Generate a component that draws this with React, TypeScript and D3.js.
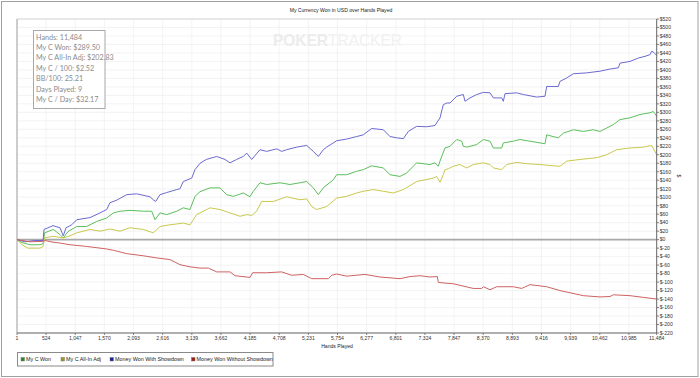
import React from "react";
import * as d3 from "d3";

const title = "My Currency Won in USD over Hands Played";
const xTitle = "Hands Played";
const yTitle = "$";
const xTickValues = [1, 524, 1047, 1570, 2093, 2616, 3139, 3662, 4185, 4708, 5231, 5754, 6277, 6801, 7324, 7847, 8370, 8893, 9416, 9939, 10462, 10985, 11484];
const yTickValues = [-220, -200, -180, -160, -140, -120, -100, -80, -60, -40, -20, 0, 20, 40, 60, 80, 100, 120, 140, 160, 180, 200, 220, 240, 260, 280, 300, 320, 340, 360, 380, 400, 420, 440, 460, 480, 500, 520];
const statsLines = ["Hands: 11,484", "My C Won: $289.50", "My C All-In Adj: $202.83", "My C / 100: $2.52", "BB/100: 25.21", "Days Played: 9", "My C / Day: $32.17"];
const seriesNames = ["My C Won", "My C All-In Adj", "Money Won With Showdown", "Money Won Without Showdown"];

const showdownHands = [1, 145, 324, 468, 486, 647, 773, 832, 880, 983, 1073, 1311, 1491, 1611, 1670, 1790, 1970, 2150, 2388, 2448, 2491, 2568, 2688, 2868, 2927, 2986, 3137, 3196, 3286, 3400, 3586, 3735, 3825, 3944, 4063, 4124, 4214, 4363, 4483, 4663, 4752, 4842, 5021, 5201, 5320, 5410, 5499, 5559, 5739, 5918, 6098, 6217, 6367, 6576, 6696, 6816, 6936, 7025, 7175, 7355, 7504, 7594, 7653, 7714, 7774, 7894, 8013, 8043, 8133, 8253, 8372, 8492, 8552, 8702, 8731, 8761, 8971, 9090, 9330, 9479, 9509, 9718, 9748, 9868, 9987, 10226, 10466, 10645, 10795, 10825, 11004, 11154, 11274, 11364, 11394, 11435, 11484];
const showdownValues = [0, -5, -2, -2, 24, 33, 28, 9, 28, 35, 47, 52, 63, 71, 87, 93, 106, 108, 101, 94, 90, 106, 111, 118, 120, 137, 145, 165, 180, 189, 196, 189, 181, 189, 196, 204, 189, 212, 208, 214, 208, 212, 218, 222, 208, 196, 212, 218, 233, 237, 243, 247, 262, 259, 243, 240, 238, 255, 267, 266, 269, 287, 318, 322, 322, 338, 342, 326, 334, 342, 347, 346, 334, 334, 326, 344, 346, 342, 336, 338, 361, 361, 373, 381, 391, 393, 397, 402, 405, 416, 420, 428, 432, 436, 444, 441, 434];

const wonHands = [1, 91, 234, 414, 473, 495, 653, 773, 832, 916, 1073, 1252, 1432, 1611, 1730, 1850, 2029, 2268, 2419, 2478, 2568, 2688, 2868, 2986, 3106, 3196, 3286, 3465, 3645, 3765, 3884, 4063, 4183, 4243, 4363, 4483, 4722, 4901, 5081, 5201, 5320, 5410, 5499, 5678, 5739, 5918, 6098, 6217, 6367, 6576, 6696, 6875, 6995, 7175, 7414, 7504, 7564, 7594, 7683, 7774, 7894, 7984, 8013, 8073, 8253, 8372, 8492, 8552, 8702, 8731, 8910, 9030, 9209, 9389, 9479, 9509, 9622, 9718, 9808, 9987, 10167, 10346, 10466, 10585, 10705, 10825, 11004, 11184, 11364, 11423, 11484];
const wonValues = [0, -7, -12, -12, -9, 16, 24, 12, 4, 19, 31, 31, 43, 51, 63, 67, 69, 67, 67, 47, 63, 59, 67, 75, 71, 102, 113, 122, 122, 106, 102, 110, 101, 114, 134, 130, 134, 130, 134, 137, 122, 106, 122, 141, 153, 153, 161, 165, 174, 169, 153, 149, 157, 181, 177, 181, 173, 185, 216, 220, 236, 232, 220, 218, 224, 236, 232, 216, 216, 228, 232, 236, 232, 228, 226, 247, 243, 240, 251, 259, 255, 259, 255, 263, 271, 283, 287, 295, 299, 302, 291];

const allInHands = [1, 91, 198, 414, 468, 495, 653, 832, 952, 1073, 1311, 1491, 1670, 1850, 2029, 2268, 2448, 2568, 2747, 2986, 3106, 3226, 3286, 3465, 3645, 3825, 4004, 4124, 4214, 4303, 4393, 4602, 4842, 5081, 5201, 5291, 5380, 5559, 5739, 5918, 6098, 6217, 6397, 6576, 6756, 6936, 7175, 7474, 7534, 7594, 7653, 7683, 7743, 7833, 7953, 8073, 8192, 8372, 8492, 8552, 8702, 8791, 8971, 9150, 9389, 9628, 9748, 9868, 10107, 10406, 10585, 10765, 11004, 11244, 11394, 11484];
const allInValues = [0, -12, -20, -20, -16, 4, 8, 4, 9, 16, 24, 20, 25, 20, 28, 24, 16, 31, 35, 39, 35, 59, 63, 75, 71, 63, 55, 59, 57, 67, 90, 90, 101, 94, 96, 78, 71, 78, 98, 102, 110, 114, 118, 114, 110, 118, 137, 145, 149, 135, 153, 165, 167, 173, 177, 169, 177, 181, 177, 169, 165, 177, 182, 179, 177, 174, 173, 185, 189, 193, 200, 212, 216, 218, 222, 200];

const noShowdownHands = [1, 234, 473, 503, 647, 773, 952, 1252, 1491, 1611, 1730, 1970, 2268, 2508, 2747, 2927, 3106, 3286, 3435, 3586, 3825, 3914, 4183, 4232, 4483, 4752, 4932, 5141, 5291, 5589, 5650, 5739, 5918, 6247, 6517, 6876, 7055, 7235, 7414, 7546, 7564, 7833, 8192, 8343, 8372, 8492, 8612, 8910, 9060, 9209, 9509, 9748, 10167, 10466, 10645, 10705, 11004, 11244, 11484];
const noShowdownValues = [0, -5, -4, -2, -6, -8, -12, -16, -20, -22, -25, -33, -38, -43, -47, -59, -64, -67, -67, -76, -76, -85, -89, -78, -78, -76, -84, -82, -92, -92, -84, -81, -86, -82, -88, -92, -87, -85, -88, -87, -101, -104, -115, -115, -111, -118, -111, -111, -115, -106, -111, -120, -132, -135, -134, -130, -132, -136, -140];

const lineColors = ["#5cbf5c", "#c9c94e", "#6a6ad2", "#cf6262"];
const swatchColors = ["#1f8f1f", "#9a9a1c", "#1c1ca0", "#a01c1c"];

const W = 700, H = 378;
const L = 17, R = 656.7, T = 19, B = 333;

export default function App() {
  const x = d3.scaleLinear().domain([1, 11484]).range([L, R]);
  const y = d3.scaleLinear().domain([-220, 520]).range([B, T]);
  const mk = (hs: number[], vs: number[]) =>
    d3.line<number>().x((_, i) => x(hs[i])).y((v) => y(v))(vs) || "";
  const paths = [
    mk(wonHands, wonValues),
    mk(allInHands, allInValues),
    mk(showdownHands, showdownValues),
    mk(noShowdownHands, noShowdownValues),
  ];
  const fmtX = d3.format(",");
  const fmtY = (v: number) => (v < 0 ? "$-" + Math.abs(v) : "$" + v);
  const axisFont = "'Liberation Sans', Arial, sans-serif";
  const legendX = [21, 61, 110, 191.5];
  return (
    <svg width={W} height={H} style={{ position: "fixed", left: 0, top: 0, background: "#fff" }}>
      <rect x={0} y={0} width={W} height={H} fill="#fff" />
      <rect x={1.5} y={1.5} width={696.5} height={375} fill="none" stroke="#a0a0a0" />
      <text x={341} y={11.5} fontFamily={axisFont} fontSize={5.1} textAnchor="middle" fill="#222">{title}</text>
      {/* grid */}
      {yTickValues.map((v) => (
        <line key={"gy" + v} x1={L} x2={R} y1={y(v)} y2={y(v)} stroke="#f0f0f0" strokeWidth={0.8} />
      ))}
      {xTickValues.map((v) => (
        <line key={"gx" + v} x1={x(v)} x2={x(v)} y1={T} y2={B} stroke="#f0f0f0" strokeWidth={0.8} />
      ))}
      <line x1={L} x2={R} y1={T} y2={T} stroke="#cfcfcf" strokeWidth={0.8} />
      <line x1={L} x2={L} y1={T} y2={B} stroke="#a0a0a0" strokeWidth={1} />
      {/* watermark */}
      <text x={273} y={46} fontFamily="'Liberation Sans', Arial, sans-serif" fontWeight="bold" fontSize={17} fill="#ececec" textLength={129} lengthAdjust="spacingAndGlyphs">
        <tspan>POKER</tspan><tspan fontWeight="normal" fill="#f1f1f1">TRACKER</tspan>
      </text>
      {/* zero line */}
      <line x1={L} x2={R} y1={y(0)} y2={y(0)} stroke="#a8a8a8" strokeWidth={1.8} />
      {/* series */}
      {paths.map((d, i) => (
        <path key={"s" + i} d={d} fill="none" stroke={lineColors[i]} strokeWidth={1} strokeLinejoin="round" />
      ))}
      {/* axes */}
      <line x1={R} x2={R} y1={T} y2={B} stroke="#666" strokeWidth={1} />
      <line x1={L} x2={R} y1={B} y2={B} stroke="#666" strokeWidth={1} />
      {yTickValues.map((v) => (
        <g key={"ty" + v}>
          <line x1={R} x2={R + 2.5} y1={y(v)} y2={y(v)} stroke="#666" strokeWidth={0.8} />
          <text x={R + 3} y={y(v) + 1.8} fontFamily={axisFont} fontSize={5.1} fill="#333">{fmtY(v)}</text>
        </g>
      ))}
      {xTickValues.map((v) => (
        <g key={"tx" + v}>
          <line x1={x(v)} x2={x(v)} y1={B} y2={B + 2} stroke="#666" strokeWidth={0.8} />
          <text x={x(v)} y={340} fontFamily={axisFont} fontSize={5.1} textAnchor="middle" fill="#333">{fmtX(v)}</text>
        </g>
      ))}
      <text x={337} y={348} fontFamily={axisFont} fontSize={5.1} textAnchor="middle" fill="#222">{xTitle}</text>
      <text transform={`translate(677,${(T + B) / 2}) rotate(90)`} fontFamily={axisFont} fontSize={5.1} textAnchor="middle" fill="#222">{yTitle}</text>
      {/* stats box */}
      <rect x={33.5} y={30.5} width={71.5} height={78} fill="#fff" fillOpacity={0.9} stroke="#a8a8a8" strokeWidth={1} />
      {statsLines.map((s, i) => (
        <text key={"st" + i} x={36} y={39.6 + i * 10.4} fontFamily="Lato, 'Open Sans', sans-serif" fontSize={7.2} fill="#8c8c8c">{s}</text>
      ))}
      {/* legend */}
      <rect x={17.5} y={352.5} width={255.5} height={13.5} fill="#fff" stroke="#8a8a8a" strokeWidth={1} />
      {seriesNames.map((n, i) => (
        <g key={"lg" + i}>
          <rect x={legendX[i]} y={357.5} width={3.5} height={3.5} fill={swatchColors[i]} stroke="#777" strokeWidth={0.5} />
          <text x={legendX[i] + 5} y={361} fontFamily={axisFont} fontSize={5.4} fill="#222">{n}</text>
        </g>
      ))}
    </svg>
  );
}
